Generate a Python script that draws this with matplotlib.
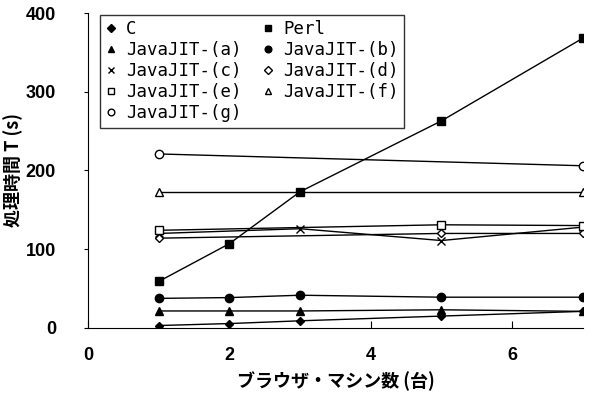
import matplotlib
matplotlib.use("Agg")
import matplotlib.pyplot as plt
from matplotlib.lines import Line2D
from matplotlib.font_manager import FontProperties

plt.rcParams['font.family'] = ['Noto Sans CJK JP', 'DejaVu Sans']

x_full = [1, 2, 3, 5, 7]
x_c = [1, 3, 5, 7]
x_de = [1, 5, 7]
x_fg = [1, 7]

C_vals = [3, 5.5, 9, 15, 21]
perl_vals = [59, 107, 173, 263, 368]
a_vals = [21.5, 21.5, 21.5, 23, 21]
b_vals = [37.5, 38.5, 41.5, 39, 39]
c_vals = [120, 126, 111, 128]
d_vals = [114, 120, 120]
e_vals = [124, 131, 130]
f_vals = [173, 173]
g_vals = [221, 206]

names = ['C', 'Perl', 'JavaJIT-(a)', 'JavaJIT-(b)', 'JavaJIT-(c)',
         'JavaJIT-(d)', 'JavaJIT-(e)', 'JavaJIT-(f)', 'JavaJIT-(g)']

series = [
    (x_full, C_vals, 'D', 'k', 4.5),
    (x_full, perl_vals, 's', 'k', 5.5),
    (x_full, a_vals, '^', 'k', 5.5),
    (x_full, b_vals, 'o', 'k', 6),
    (x_c, c_vals, 'x', 'k', 5.5),
    (x_de, d_vals, 'D', 'white', 4.5),
    (x_de, e_vals, 's', 'white', 5.5),
    (x_fg, f_vals, '^', 'white', 5.5),
    (x_fg, g_vals, 'o', 'white', 6),
]

fig = plt.figure(figsize=(5.91, 3.96), dpi=100)
ax = fig.add_axes([0.149, 0.172, 0.837, 0.795])

handles = []
for (xs, ys, m, fc, ms), nm in zip(series, names):
    ax.plot(xs, ys, color='k', lw=1.0, marker=m, markerfacecolor=fc,
            markeredgecolor='k', markersize=ms, markeredgewidth=1.0)
    handles.append(Line2D([], [], ls='none', marker=m, markerfacecolor=fc,
                          markeredgecolor='k', markersize=ms * 0.8,
                          markeredgewidth=1.0, color='k'))

ax.set_xlim(0, 7)
ax.set_ylim(0, 400)
ax.set_xticks([0, 2, 4, 6])
ax.set_yticks([0, 100, 200, 300, 400])
ax.spines['top'].set_visible(False)
ax.spines['right'].set_visible(False)
ax.tick_params(axis='y', direction='out', length=3, labelsize=13, pad=20)
ax.tick_params(axis='x', direction='in', length=5, labelsize=13, pad=14)
for lab in ax.get_xticklabels() + ax.get_yticklabels():
    lab.set_fontweight('bold')
    lab.set_family(['Liberation Sans', 'DejaVu Sans'])

ax.set_xlabel('ブラウザ・マシン数 (台)', fontsize=13, fontweight='bold', labelpad=5)
ax.set_ylabel('処理時間 T (s)', fontsize=13, fontweight='bold', labelpad=2)

legfont = FontProperties(family='DejaVu Sans Mono', size=12.5)
order = [0, 2, 4, 6, 8, 1, 3, 5, 7]
leg = ax.legend([handles[i] for i in order], [names[i] for i in order],
                ncol=2, loc='upper left', bbox_to_anchor=(0.024, 0.995),
                frameon=True, fancybox=False, edgecolor='k', prop=legfont,
                handlelength=0.7, handletextpad=0.5, columnspacing=1.2,
                labelspacing=0.18, borderpad=0.3, borderaxespad=0.0)
leg.get_frame().set_linewidth(1.0)
for t in leg.get_texts():
    t.set_fontproperties(legfont)

fig.savefig('out.png', dpi=100)
